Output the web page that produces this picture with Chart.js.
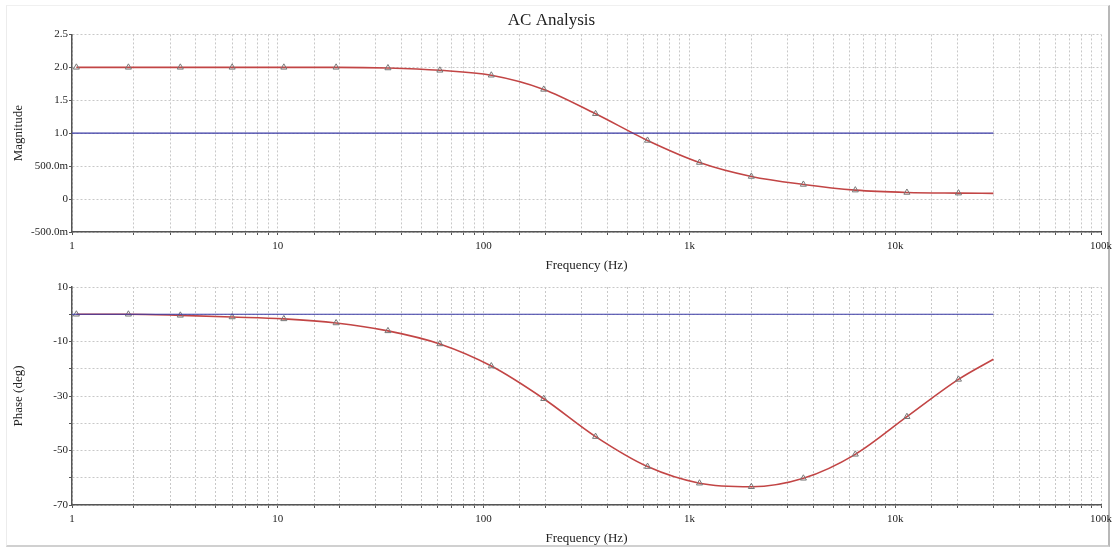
<!DOCTYPE html>
<html>
<head>
<meta charset="utf-8">
<title>AC Analysis</title>
<script src="https://cdn.jsdelivr.net/npm/chart.js@4/dist/chart.umd.min.js"></script>
<style>
    html, body { margin: 0; padding: 0; background: #fff; }
    #page { position: relative; width: 1117px; height: 548px; overflow: hidden; }
    #frame {
        position: absolute; left: 6px; top: 5px; width: 1101px; height: 539px;
        border-left: 1px solid #ececec; border-top: 1px solid #f0f0f0;
        border-right: 2px solid #b8b8b8; border-bottom: 2px solid #d0d0d0;
    }
    canvas { position: absolute; left: 0; }
    #magChart { top: 0; }
    #phaseChart { top: 274px; }
</style>
</head>
<body>
<div id="page">
    <div id="frame"></div>
    <canvas id="magChart" width="1117" height="274"></canvas>
    <canvas id="phaseChart" width="1117" height="274"></canvas>
</div>
<script>
// simulation points (Hz)
const freq = [1.05, 1.88, 3.36, 6.0, 10.7, 19.2, 34.3, 61.3, 109, 196, 350, 626, 1120, 2000, 3580, 6400, 11400, 20300, 30000];
const magnitude = [2.0, 2.0, 2.0, 2.0, 2.0, 2.0, 1.99, 1.955, 1.88, 1.665, 1.295, 0.89, 0.555, 0.343, 0.222, 0.136, 0.10, 0.09, 0.086];
const phase = [0, 0, -0.4, -1.0, -1.7, -3.2, -6.1, -10.9, -19.0, -31.0, -44.9, -55.9, -62.0, -63.3, -60.2, -51.4, -37.6, -23.9, -16.5];

// reference traces
const refFreq = [1, 30000];
const magRef = [1, 1];
const phaseRef = [0, 0];

// axis ticks
const freqTicks = [1, 10, 100, 1000, 10000, 100000];
const freqTickLabels = ["1", "10", "100", "1k", "10k", "100k"];
const magTicks = [-0.5, 0, 0.5, 1, 1.5, 2, 2.5];
const magTickLabels = ["-500.0m", "0", "500.0m", "1.0", "1.5", "2.0", "2.5"];
const phaseTicks = [10, 0, -10, -20, -30, -40, -50, -60, -70];
const phaseTickLabels = ["10", "", "-10", "", "-30", "", "-50", "", "-70"];

Chart.defaults.font.family = "'Liberation Serif', 'Times New Roman', serif";
Chart.defaults.color = "#222";

const RED = "#c24545";
const BLUE = "#3a3aa6";
const GRID = "#c8c8c8";
const AXIS = "#555";

function lookup(ticks, labels, v) {
    const i = ticks.findIndex(t => Math.abs(t - v) < 1e-9);
    return i >= 0 ? labels[i] : "";
}

function toPoints(xs, ys) {
    return xs.map((x, i) => ({ x: x, y: ys[i] }));
}

function xAxis(height) {
    return {
        type: "logarithmic",
        min: 1,
        max: 100000,
        afterFit: s => { s.height = height; },
        grid: { color: GRID, tickColor: AXIS, tickLength: 3, lineWidth: 1 },
        border: { color: AXIS, width: 1.5, dash: [2, 2] },
        ticks: {
            autoSkip: false,
            maxRotation: 0,
            padding: 5,
            font: { size: 11 },
            callback: v => lookup(freqTicks, freqTickLabels, v)
        },
        title: { display: true, text: "Frequency (Hz)", font: { size: 13 }, padding: { top: 0, bottom: 0 } }
    };
}

function yAxis(min, max, step, ticks, labels, titleText) {
    return {
        min: min,
        max: max,
        afterFit: s => { s.width = 72; },
        grid: { color: GRID, tickColor: AXIS, tickLength: 3, lineWidth: 1 },
        border: { color: AXIS, width: 1.5, dash: [2, 2] },
        ticks: {
            stepSize: step,
            padding: 1,
            font: { size: 11 },
            callback: v => lookup(ticks, labels, v)
        },
        title: { display: true, text: titleText, font: { size: 13 }, padding: { top: 11, bottom: 0 } }
    };
}

function drawPlot(canvasId, values, refValues, yOpts, xHeight, padding, title) {
    const ctx = document.getElementById(canvasId).getContext("2d");
    return new Chart(ctx, {
        type: "line",
        data: {
            datasets: [{
                data: toPoints(refFreq, refValues),
                borderColor: BLUE,
                borderWidth: 1.2,
                pointRadius: 0,
                order: 0
            }, {
                data: toPoints(freq, values),
                borderColor: RED,
                borderWidth: 1.6,
                cubicInterpolationMode: "monotone",
                pointStyle: "triangle",
                pointRadius: c => c.dataIndex === freq.length - 1 ? 0 : 3.5,
                pointBorderColor: "#777",
                pointBorderWidth: 1,
                pointBackgroundColor: "rgba(255,255,255,0)",
                order: 1
            }]
        },
        options: {
            responsive: false,
            animation: false,
            devicePixelRatio: 1,
            layout: { padding: padding },
            plugins: {
                legend: { display: false },
                tooltip: { enabled: false },
                title: title
            },
            scales: {
                x: xAxis(xHeight),
                y: yOpts
            }
        }
    });
}

drawPlot("magChart", magnitude, magRef,
    yAxis(-0.5, 2.5, 0.5, magTicks, magTickLabels, "Magnitude"),
    41, { top: 0, left: 0, right: 14, bottom: 1 },
    { display: true, text: "AC Analysis", color: "#222", font: { size: 17, weight: "normal" }, padding: { top: 10, bottom: 4 } });

drawPlot("phaseChart", phase, phaseRef,
    yAxis(-70, 10, 10, phaseTicks, phaseTickLabels, "Phase (deg)"),
    41, { top: 13, left: 0, right: 14, bottom: 2 },
    { display: false });
</script>
</body>
</html>
